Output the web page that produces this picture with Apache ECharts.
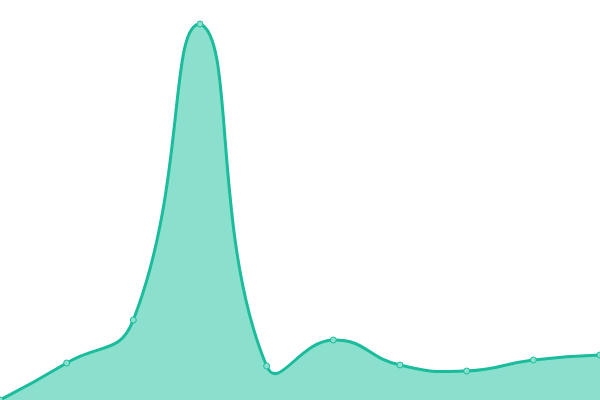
<!DOCTYPE html>
<html>
<head>
<meta charset="utf-8">
<script src="https://cdn.jsdelivr.net/npm/echarts@6/dist/echarts.min.js"></script>
<style>
  html, body { margin: 0; padding: 0; background: #fff; }
  #main { width: 600px; height: 400px; }
</style>
</head>
<body>
<div id="main"></div>
<script>
// no visible axes, values read from pixel heights (0..400)
var categories = ['1', '2', '3', '4', '5', '6', '7', '8', '9', '10'];
var values = [0, 37, 80, 376, 34, 60, 35, 29, 40, 45];

var LINE = '#1abc9c';
var FILL = '#8be0cd';
var SMOOTH = 0.5;

// old-style bezier smoothing (lets the curve dip past a point, like the reference)
function smoothPath(pts, smooth) {
    var n = pts.length;
    var minX = Infinity, minY = Infinity, maxX = -Infinity, maxY = -Infinity;
    pts.forEach(function (p) {
        minX = Math.min(minX, p[0]); maxX = Math.max(maxX, p[0]);
        minY = Math.min(minY, p[1]); maxY = Math.max(maxY, p[1]);
    });
    function clamp(c) {
        return [Math.min(Math.max(c[0], minX), maxX), Math.min(Math.max(c[1], minY), maxY)];
    }
    var d = 'M' + pts[0][0] + ' ' + pts[0][1];
    var cp0 = pts[0].slice();
    var v = [0, 0];
    for (var i = 1; i < n; i++) {
        var p = pts[i];
        var cp1;
        var ratio = 0.5;
        if (i >= n - 1) {
            cp1 = p.slice();
        } else {
            var prev = pts[i - 1], next = pts[i + 1];
            v = [next[0] - prev[0], next[1] - prev[1]];
            var lp = Math.hypot(p[0] - prev[0], p[1] - prev[1]);
            var ln = Math.hypot(next[0] - p[0], next[1] - p[1]);
            ratio = ln / (ln + lp);
            cp1 = [p[0] - v[0] * smooth * (1 - ratio), p[1] - v[1] * smooth * (1 - ratio)];
        }
        var a = clamp(cp0), b = clamp(cp1);
        d += ' C' + a[0] + ' ' + a[1] + ' ' + b[0] + ' ' + b[1] + ' ' + p[0] + ' ' + p[1];
        cp0 = [p[0] + v[0] * smooth * ratio, p[1] + v[1] * smooth * ratio];
    }
    return d;
}

function renderItem(params, api) {
    if (params.dataIndex !== 0) return null;
    var pts = values.map(function (v, i) { return api.coord([i, v]); });
    var base = api.coord([0, 0])[1];
    var line = smoothPath(pts, SMOOTH);
    var area = line + ' L' + pts[pts.length - 1][0] + ' ' + base + ' L' + pts[0][0] + ' ' + base + ' Z';
    var children = [
        { type: 'path', shape: { pathData: area }, style: { fill: FILL, stroke: null } },
        { type: 'path', shape: { pathData: line }, style: { fill: null, stroke: LINE, lineWidth: 3 } }
    ];
    pts.forEach(function (p) {
        children.push({
            type: 'circle',
            shape: { cx: p[0], cy: p[1], r: 3 },
            style: { fill: FILL, stroke: LINE, lineWidth: 1 }
        });
    });
    return { type: 'group', children: children };
}

var chart = echarts.init(document.getElementById('main'));
chart.setOption({
    animation: false,
    grid: { left: 0, right: 0, top: 0, bottom: 0 },
    xAxis: {
        type: 'category',
        boundaryGap: false,
        data: categories,
        show: false
    },
    yAxis: {
        type: 'value',
        min: 0,
        max: 400,
        show: false
    },
    series: [{
        type: 'custom',
        renderItem: renderItem,
        clip: false,
        encode: { x: 0, y: 1 },
        data: values.map(function (v, i) { return [i, v]; })
    }]
});
</script>
</body>
</html>
